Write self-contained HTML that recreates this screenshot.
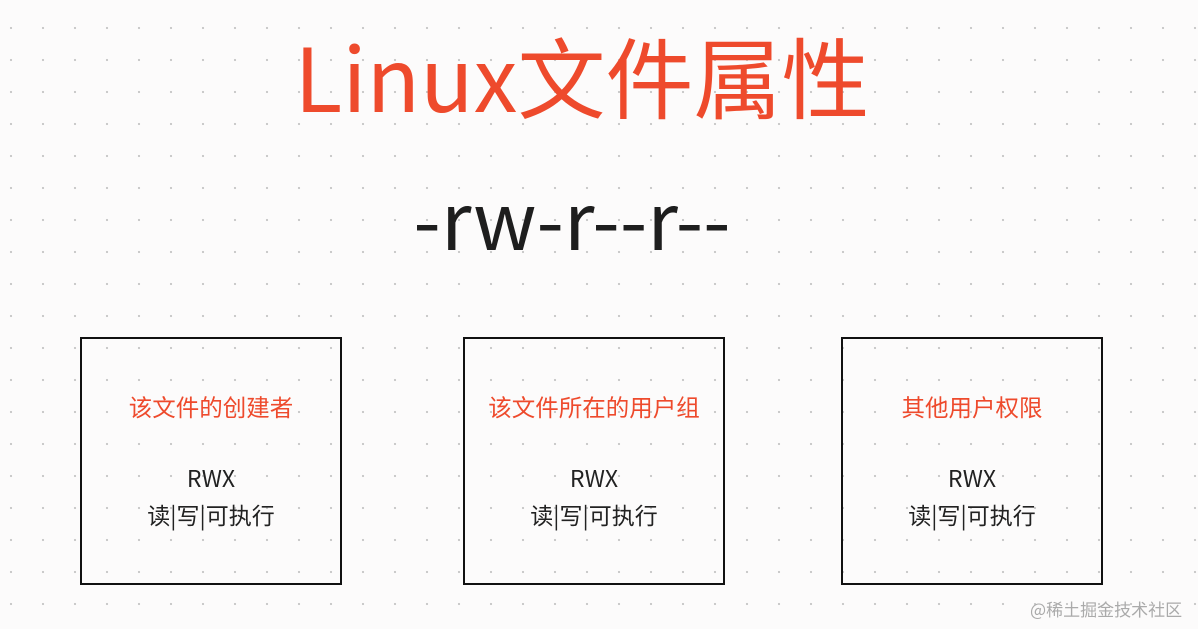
<!DOCTYPE html>
<html><head><meta charset="utf-8"><style>
html,body{margin:0;padding:0}
body{width:1198px;height:629px;position:relative;overflow:hidden;background-color:#fcfbfb;
background-image:radial-gradient(circle,#c8c8c8 1px,transparent 1.3px);
background-size:32px 32px;background-position:-5px 12px;
font-family:"Noto Sans CJK SC","Liberation Sans",sans-serif;}
.t{position:absolute;white-space:nowrap;text-align:center;line-height:1}
.box{position:absolute;top:337px;width:258px;height:244px;border:2px solid #111;}
.box .a{position:absolute;left:0;right:0;top:53px;text-align:center;color:#ee4a2c;font-size:23.5px;line-height:28px}
.box .b{position:absolute;left:0;right:0;top:120px;text-align:center;color:#222;font-size:23px;line-height:37px}
</style></head><body>
<div class="t" style="left:0;width:1164px;top:31px;font-size:88px;color:#ee4a2c">Linux文件属性</div>
<div class="t" style="left:0;width:1144px;top:176px;font-size:79px;color:#1e1e1e">-rw-r--r--</div>
<div class="box" style="left:80px"><div class="a">该文件的创建者</div><div class="b">RWX<br>读|写|可执行</div></div>
<div class="box" style="left:463px"><div class="a">该文件所在的用户组</div><div class="b">RWX<br>读|写|可执行</div></div>
<div class="box" style="left:841px"><div class="a">其他用户权限</div><div class="b">RWX<br>读|写|可执行</div></div>
<div class="t" style="left:1030px;top:600px;font-size:17px;color:#aaa">@稀土掘金技术社区</div>
</body></html>
